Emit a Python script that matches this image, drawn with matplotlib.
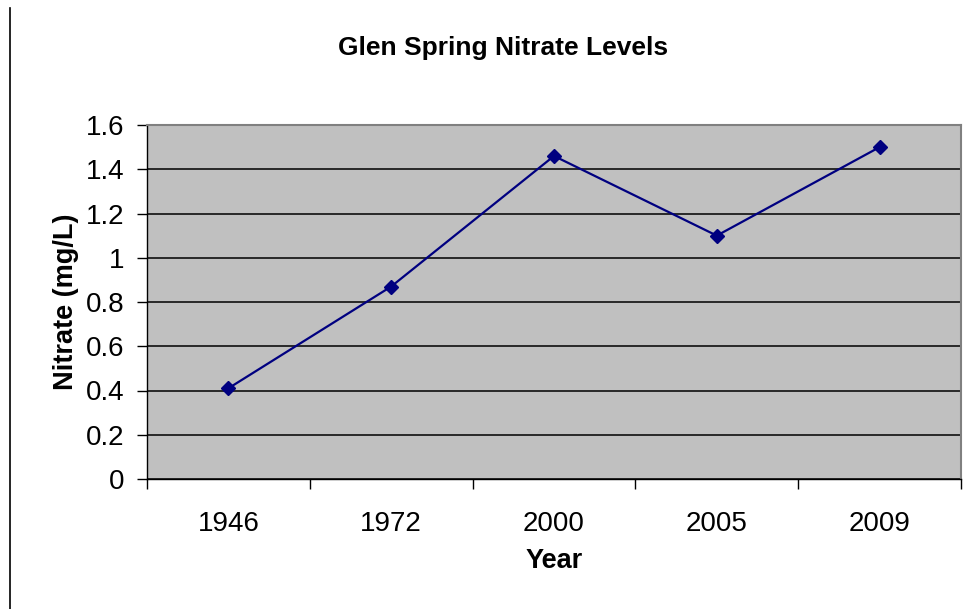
import matplotlib
matplotlib.use("Agg")
import matplotlib.pyplot as plt
from matplotlib.lines import Line2D
from matplotlib.ticker import FixedLocator

years = ["1946", "1972", "2000", "2005", "2009"]
nitrate = [0.41, 0.87, 1.46, 1.10, 1.50]
yticks = [0, 0.2, 0.4, 0.6, 0.8, 1, 1.2, 1.4, 1.6]
ytick_labels = ["0", "0.2", "0.4", "0.6", "0.8", "1", "1.2", "1.4", "1.6"]

plt.rcParams['font.family'] = ['Liberation Sans', 'DejaVu Sans']

fig = plt.figure(figsize=(9.77, 6.09), dpi=100)
ax = fig.add_axes([147/977, 1 - 479/609, (961 - 147)/977, (479 - 125)/609])
ax.set_facecolor('#C0C0C0')

x = list(range(len(years)))
ax.plot(x, nitrate, color='#000080', lw=1.6, marker='D', markersize=7,
        markerfacecolor='#000080', markeredgecolor='#000080', zorder=3)

ax.set_xlim(-0.5, len(years) - 0.5)
ax.set_ylim(0, 1.6)
ax.set_yticks(yticks)
ax.set_yticklabels(ytick_labels, fontsize=20)
ax.yaxis.grid(True, color='black', lw=1.1)
ax.set_axisbelow(True)

ax.set_xticks(x)
ax.set_xticklabels(years, fontsize=20)
ax.tick_params(axis='x', which='major', length=0, pad=23)
ax.xaxis.set_minor_locator(FixedLocator([i - 0.5 for i in range(len(years) + 1)]))
ax.tick_params(axis='x', which='minor', length=7, width=1, direction='out', color='black')
ax.tick_params(axis='y', length=7, width=1, direction='out', pad=9, color='black')

for s in ['top', 'right']:
    ax.spines[s].set_color('#808080')
    ax.spines[s].set_linewidth(1.5)
for s in ['left', 'bottom']:
    ax.spines[s].set_color('black')
    ax.spines[s].set_linewidth(1.0)

ax.set_xlabel('Year', fontsize=19.5, fontweight='bold', labelpad=8)
ax.set_ylabel('Nitrate (mg/L)', fontsize=19.5, fontweight='bold', labelpad=5)
fig.text(503/977, 1 - 48/609, 'Glen Spring Nitrate Levels', fontsize=19,
         fontweight='bold', ha='center', va='center')

fig.add_artist(Line2D([10/977, 10/977], [0, 1 - 8/609], color='black', lw=1.2,
                      transform=fig.transFigure))

fig.savefig('out.png', dpi=100, facecolor='white')
